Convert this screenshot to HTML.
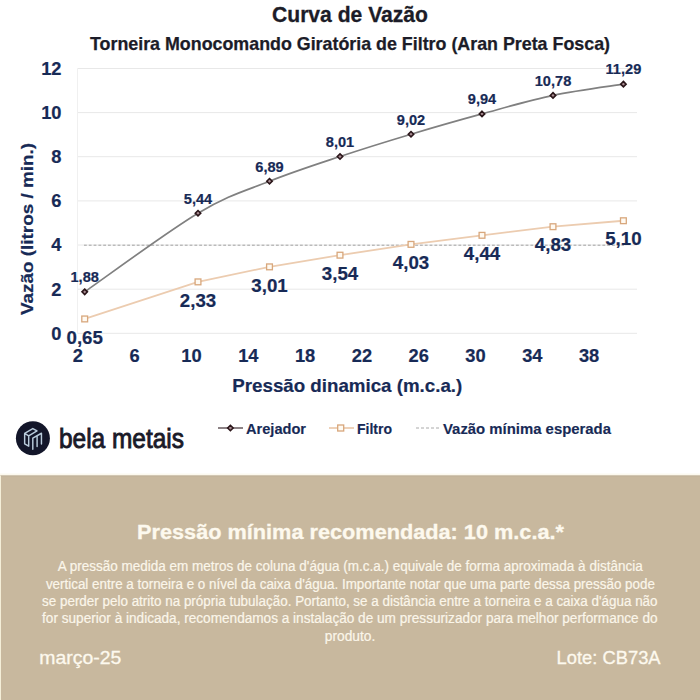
<!DOCTYPE html>
<html><head><meta charset="utf-8">
<style>
html,body{margin:0;padding:0;background:#fff;width:700px;height:700px;overflow:hidden;}
svg{display:block;}
text{font-family:"Liberation Sans",sans-serif;}
.ax{font-weight:bold;font-size:18.3px;fill:#172a56;stroke:#172a56;stroke-width:0.2px;}
.la{font-weight:bold;font-size:14.6px;fill:#172a56;stroke:#172a56;stroke-width:0.2px;}
.lf{font-weight:bold;font-size:18.7px;fill:#172a56;stroke:#172a56;stroke-width:0.2px;}
.lg{font-weight:bold;font-size:15px;fill:#172a56;stroke:#172a56;stroke-width:0.15px;}
</style></head><body>
<svg width="700" height="700" viewBox="0 0 700 700">
<rect x="0" y="0" width="700" height="700" fill="#ffffff"/>
<text x="350" y="22" text-anchor="middle" font-weight="bold" font-size="21.5" fill="#1c1c28" stroke="#1c1c28" stroke-width="0.3" textLength="156" lengthAdjust="spacingAndGlyphs">Curva de Vazão</text>
<text x="350" y="50" text-anchor="middle" font-weight="bold" font-size="18.2" fill="#1c1c28" stroke="#1c1c28" stroke-width="0.25" textLength="520" lengthAdjust="spacingAndGlyphs">Torneira Monocomando Giratória de Filtro (Aran Preta Fosca)</text>
<line x1="77.5" y1="333.3" x2="637" y2="333.3" stroke="#e8e8e8" stroke-width="1"/>
<line x1="77.5" y1="289.2" x2="637" y2="289.2" stroke="#e8e8e8" stroke-width="1"/>
<line x1="77.5" y1="245.0" x2="637" y2="245.0" stroke="#e8e8e8" stroke-width="1"/>
<line x1="77.5" y1="200.9" x2="637" y2="200.9" stroke="#e8e8e8" stroke-width="1"/>
<line x1="77.5" y1="156.7" x2="637" y2="156.7" stroke="#e8e8e8" stroke-width="1"/>
<line x1="77.5" y1="112.6" x2="637" y2="112.6" stroke="#e8e8e8" stroke-width="1"/>
<line x1="77.5" y1="68.5" x2="637" y2="68.5" stroke="#e8e8e8" stroke-width="1"/>
<line x1="77.5" y1="68.5" x2="77.5" y2="333.3" stroke="#f0f0f0" stroke-width="1"/>

<text x="61.5" y="339.7" text-anchor="end" class="ax">0</text>
<text x="61.5" y="295.6" text-anchor="end" class="ax">2</text>
<text x="61.5" y="251.4" text-anchor="end" class="ax">4</text>
<text x="61.5" y="207.3" text-anchor="end" class="ax">6</text>
<text x="61.5" y="163.1" text-anchor="end" class="ax">8</text>
<text x="61.5" y="119.0" text-anchor="end" class="ax">10</text>
<text x="61.5" y="74.9" text-anchor="end" class="ax">12</text>

<text x="77.9" y="362.3" text-anchor="middle" class="ax">2</text>
<text x="134.7" y="362.3" text-anchor="middle" class="ax">6</text>
<text x="191.5" y="362.3" text-anchor="middle" class="ax">10</text>
<text x="248.3" y="362.3" text-anchor="middle" class="ax">14</text>
<text x="305.1" y="362.3" text-anchor="middle" class="ax">18</text>
<text x="361.9" y="362.3" text-anchor="middle" class="ax">22</text>
<text x="418.7" y="362.3" text-anchor="middle" class="ax">26</text>
<text x="475.5" y="362.3" text-anchor="middle" class="ax">30</text>
<text x="532.3" y="362.3" text-anchor="middle" class="ax">34</text>
<text x="589.1" y="362.3" text-anchor="middle" class="ax">38</text>

<text transform="translate(33.3,229) rotate(-90)" text-anchor="middle" font-weight="bold" font-size="17" fill="#172a56" stroke="#172a56" stroke-width="0.2" textLength="172" lengthAdjust="spacingAndGlyphs">Vazão (litros / min.)</text>
<text x="347.3" y="392.3" text-anchor="middle" font-weight="bold" font-size="19" fill="#172a56" stroke="#172a56" stroke-width="0.2" textLength="230" lengthAdjust="spacingAndGlyphs">Pressão dinamica (m.c.a.)</text>
<line x1="84" y1="245.2" x2="624" y2="245.2" stroke="#a3a3a3" stroke-width="1" stroke-dasharray="2.8,2"/>
<polyline points="84.70,318.95 198.00,281.88 269.50,266.87 340.00,255.17 411.00,244.36 482.00,235.31 553.00,226.70 623.40,220.74" fill="none" stroke="#ecccb0" stroke-width="1.8"/>
<path d="M84.70,291.81 C103.58,278.71 167.20,231.67 198.00,213.24 C228.80,194.81 245.83,190.69 269.50,181.24 C293.17,171.78 316.42,164.35 340.00,156.52 C363.58,148.68 387.33,141.33 411.00,134.23 C434.67,127.13 458.33,120.40 482.00,113.92 C505.67,107.45 529.43,100.35 553.00,95.39 C576.57,90.42 611.67,86.01 623.40,84.13" fill="none" stroke="#808080" stroke-width="1.7"/>
<rect x="81.80" y="316.05" width="5.8" height="5.8" fill="#fffaf2" stroke="#d8a77c" stroke-width="1.3"/>
<rect x="195.10" y="278.98" width="5.8" height="5.8" fill="#fffaf2" stroke="#d8a77c" stroke-width="1.3"/>
<rect x="266.60" y="263.97" width="5.8" height="5.8" fill="#fffaf2" stroke="#d8a77c" stroke-width="1.3"/>
<rect x="337.10" y="252.27" width="5.8" height="5.8" fill="#fffaf2" stroke="#d8a77c" stroke-width="1.3"/>
<rect x="408.10" y="241.46" width="5.8" height="5.8" fill="#fffaf2" stroke="#d8a77c" stroke-width="1.3"/>
<rect x="479.10" y="232.41" width="5.8" height="5.8" fill="#fffaf2" stroke="#d8a77c" stroke-width="1.3"/>
<rect x="550.10" y="223.80" width="5.8" height="5.8" fill="#fffaf2" stroke="#d8a77c" stroke-width="1.3"/>
<rect x="620.50" y="217.84" width="5.8" height="5.8" fill="#fffaf2" stroke="#d8a77c" stroke-width="1.3"/>

<path d="M84.70,289.11 L87.40,291.81 L84.70,294.51 L82.00,291.81 Z" fill="#a88c92" stroke="#2a1519" stroke-width="1.6"/>
<path d="M198.00,210.54 L200.70,213.24 L198.00,215.94 L195.30,213.24 Z" fill="#a88c92" stroke="#2a1519" stroke-width="1.6"/>
<path d="M269.50,178.54 L272.20,181.24 L269.50,183.94 L266.80,181.24 Z" fill="#a88c92" stroke="#2a1519" stroke-width="1.6"/>
<path d="M340.00,153.82 L342.70,156.52 L340.00,159.22 L337.30,156.52 Z" fill="#a88c92" stroke="#2a1519" stroke-width="1.6"/>
<path d="M411.00,131.53 L413.70,134.23 L411.00,136.93 L408.30,134.23 Z" fill="#a88c92" stroke="#2a1519" stroke-width="1.6"/>
<path d="M482.00,111.22 L484.70,113.92 L482.00,116.62 L479.30,113.92 Z" fill="#a88c92" stroke="#2a1519" stroke-width="1.6"/>
<path d="M553.00,92.69 L555.70,95.39 L553.00,98.09 L550.30,95.39 Z" fill="#a88c92" stroke="#2a1519" stroke-width="1.6"/>
<path d="M623.40,81.43 L626.10,84.13 L623.40,86.83 L620.70,84.13 Z" fill="#a88c92" stroke="#2a1519" stroke-width="1.6"/>

<text x="84.7" y="282.1" text-anchor="middle" class="la">1,88</text>
<text x="198.0" y="203.5" text-anchor="middle" class="la">5,44</text>
<text x="269.5" y="171.5" text-anchor="middle" class="la">6,89</text>
<text x="340.0" y="146.8" text-anchor="middle" class="la">8,01</text>
<text x="411.0" y="124.5" text-anchor="middle" class="la">9,02</text>
<text x="482.0" y="104.2" text-anchor="middle" class="la">9,94</text>
<text x="553.0" y="85.7" text-anchor="middle" class="la">10,78</text>
<text x="623.4" y="74.4" text-anchor="middle" class="la">11,29</text>

<text x="84.7" y="343.6" text-anchor="middle" class="lf">0,65</text>
<text x="198.0" y="306.5" text-anchor="middle" class="lf">2,33</text>
<text x="269.5" y="291.5" text-anchor="middle" class="lf">3,01</text>
<text x="340.0" y="279.8" text-anchor="middle" class="lf">3,54</text>
<text x="411.0" y="269.0" text-anchor="middle" class="lf">4,03</text>
<text x="482.0" y="259.9" text-anchor="middle" class="lf">4,44</text>
<text x="553.0" y="251.3" text-anchor="middle" class="lf">4,83</text>
<text x="623.4" y="245.3" text-anchor="middle" class="lf">5,10</text>

<!-- legend -->
<line x1="218" y1="428" x2="243" y2="428" stroke="#6f6266" stroke-width="1.6"/>
<path d="M230.4,425.3 L233.1,428 L230.4,430.7 L227.7,428 Z" fill="#a88c92" stroke="#2a1519" stroke-width="1.6"/>
<text x="246" y="433.6" class="lg" textLength="60" lengthAdjust="spacingAndGlyphs">Arejador</text>
<line x1="329" y1="428" x2="354" y2="428" stroke="#ecccb0" stroke-width="1.8"/>
<rect x="337.7" y="425" width="6" height="6" fill="#fffaf2" stroke="#d8a77c" stroke-width="1.3"/>
<text x="357" y="433.6" class="lg" textLength="35" lengthAdjust="spacingAndGlyphs">Filtro</text>
<line x1="416" y1="428" x2="439" y2="428" stroke="#aaa" stroke-width="1" stroke-dasharray="3,2"/>
<text x="443" y="433.6" class="lg" textLength="168" lengthAdjust="spacingAndGlyphs">Vazão mínima esperada</text>
<!-- logo -->
<circle cx="32.9" cy="438.2" r="17" fill="#13162a"/>
<g fill="none" stroke="#b8cbdb" stroke-width="1.45" stroke-linejoin="round" stroke-linecap="round">
<path d="M24.65,433.4 L32.8,428.6 L37.0,430.9 L28.7,435.8 Z M24.65,433.4 L24.65,443.8 L28.7,446.2 L28.7,435.8"/>
<path d="M32.8,449.2 L32.8,438.2 L41.45,433.25 L41.45,444.0 M37.1,446.6 L37.1,435.8"/>
</g>
<text x="59" y="448" font-size="27.5" fill="#1a1a28" stroke="#1a1a28" stroke-width="0.9" textLength="125" lengthAdjust="spacingAndGlyphs">bela metais</text>
<!-- bottom -->
<rect x="0" y="473.5" width="700" height="2" fill="#fcf9ef"/>
<rect x="0" y="475.5" width="700" height="224.5" fill="#c8b89e"/>
<rect x="0" y="475.5" width="700" height="1.2" fill="#c1b39b"/>
<rect x="0" y="475.5" width="1" height="224.5" fill="#f4eed8"/>
<text x="350.5" y="539" text-anchor="middle" font-weight="bold" font-size="20" fill="#fdf9ee" stroke="#fdf9ee" stroke-width="0.3" textLength="427" lengthAdjust="spacingAndGlyphs">Pressão mínima recomendada: 10 m.c.a.*</text>
<g font-size="13.8" fill="#fbf6ea" stroke="#fbf6ea" stroke-width="0.2" text-anchor="middle">
<text x="350.2" y="571.4" textLength="585" lengthAdjust="spacingAndGlyphs">A pressão medida em metros de coluna d'água (m.c.a.) equivale de forma aproximada à distância</text>
<text x="350.4" y="588.9" textLength="609" lengthAdjust="spacingAndGlyphs">vertical entre a torneira e o nível da caixa d'água. Importante notar que uma parte dessa pressão pode</text>
<text x="349.8" y="606.3" textLength="615.5" lengthAdjust="spacingAndGlyphs">se perder pelo atrito na própria tubulação. Portanto, se a distância entre a torneira e a caixa d'água não</text>
<text x="349.8" y="623.3" textLength="615.5" lengthAdjust="spacingAndGlyphs">for superior à indicada, recomendamos a instalação de um pressurizador para melhor performance do</text>
<text x="350" y="640.7" textLength="50.5" lengthAdjust="spacingAndGlyphs">produto.</text>
</g>
<text x="39.3" y="664.3" font-size="18" fill="#fdf9ee" stroke="#fdf9ee" stroke-width="0.3" textLength="82" lengthAdjust="spacingAndGlyphs">março-25</text>
<text x="660.6" y="663.8" text-anchor="end" font-size="18" fill="#fdf9ee" stroke="#fdf9ee" stroke-width="0.3" textLength="104" lengthAdjust="spacingAndGlyphs">Lote: CB73A</text>
</svg>
</body></html>
